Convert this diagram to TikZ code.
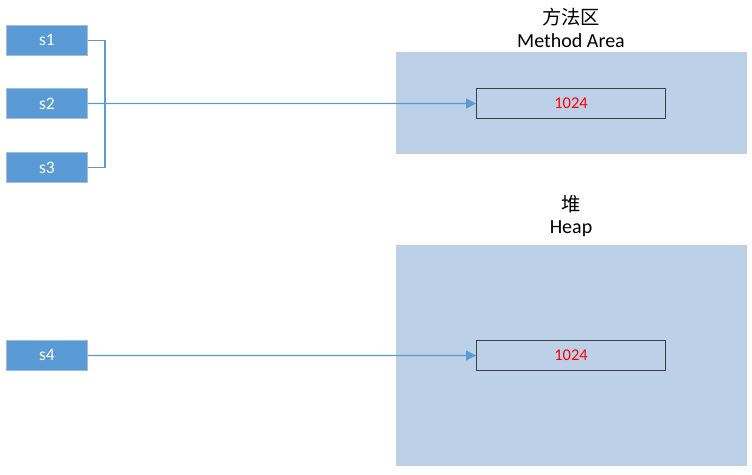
\documentclass[tikz,border=0pt]{standalone}
\usepackage{fontspec}
\setmainfont{Carlito}
\newfontfamily\cjk{Noto Sans CJK SC}
\usetikzlibrary{arrows.meta}
\definecolor{varblue}{HTML}{5B9BD5}
\definecolor{varedge}{HTML}{9DBEDF}
\definecolor{areafill}{HTML}{BCD0E8}
\definecolor{areaedge}{HTML}{C8CDD4}
\definecolor{celledge}{HTML}{3A3F45}
\begin{document}
\begin{tikzpicture}[x=1pt,y=-1pt,
  varbox/.style={draw=varedge, line width=0.8pt, fill=varblue, minimum width=81pt, minimum height=30pt, inner sep=0pt, text=white, font=\fontsize{17.5}{19}\selectfont},
  area/.style={draw=areaedge, line width=1pt, fill=areafill, inner sep=0pt},
  cell/.style={draw=celledge, line width=1pt, fill=areafill, minimum width=189pt, minimum height=30pt, inner sep=0pt, text=red, font=\fontsize{16.5}{18}\selectfont},
  title/.style={font=\fontsize{20}{22}\selectfont, text=black, inner sep=0pt},
  cjktitle/.style={font=\cjk\fontsize{19.3}{21}\selectfont, text=black, inner sep=0pt},
  link/.style={draw=varblue, line width=1.3pt},
  ptr/.style={link, -{Triangle[length=10pt,width=10pt]}}]
\useasboundingbox (0,0) rectangle (752,474);
% areas
\node[area, minimum width=350pt, minimum height=101pt, anchor=north west] (ma) at (396,52) {};
\node[area, minimum width=350pt, minimum height=220pt, anchor=north west] (heap) at (396,245) {};
\node[cjktitle] (macn) at (571,17) {方法区};
\node[title] (maen) at (571,41) {Method Area};
\node[cjktitle] (heapcn) at (571,204) {堆};
\node[title] (heapen) at (571,229) {Heap};
% cells
\node[cell, anchor=north west] (c1) at (476,88) {1024};
\node[cell, anchor=north west] (c2) at (476,340) {1024};
% variables
\node[varbox, anchor=north west] (s1) at (6,25) {s1};
\node[varbox, anchor=north west] (s2) at (6,88) {s2};
\node[varbox, anchor=north west] (s3) at (6,152) {s3};
\node[varbox, anchor=north west] (s4) at (6,340) {s4};
% connectors
\coordinate (j) at (105,103);
\draw[link] (s1.east) -| (j);
\draw[link] (s3.east) -| (j);
\draw[ptr] (s2.east) -- (c1.west);
\draw[ptr] (s4.east) -- (c2.west);
\end{tikzpicture}
\end{document}
